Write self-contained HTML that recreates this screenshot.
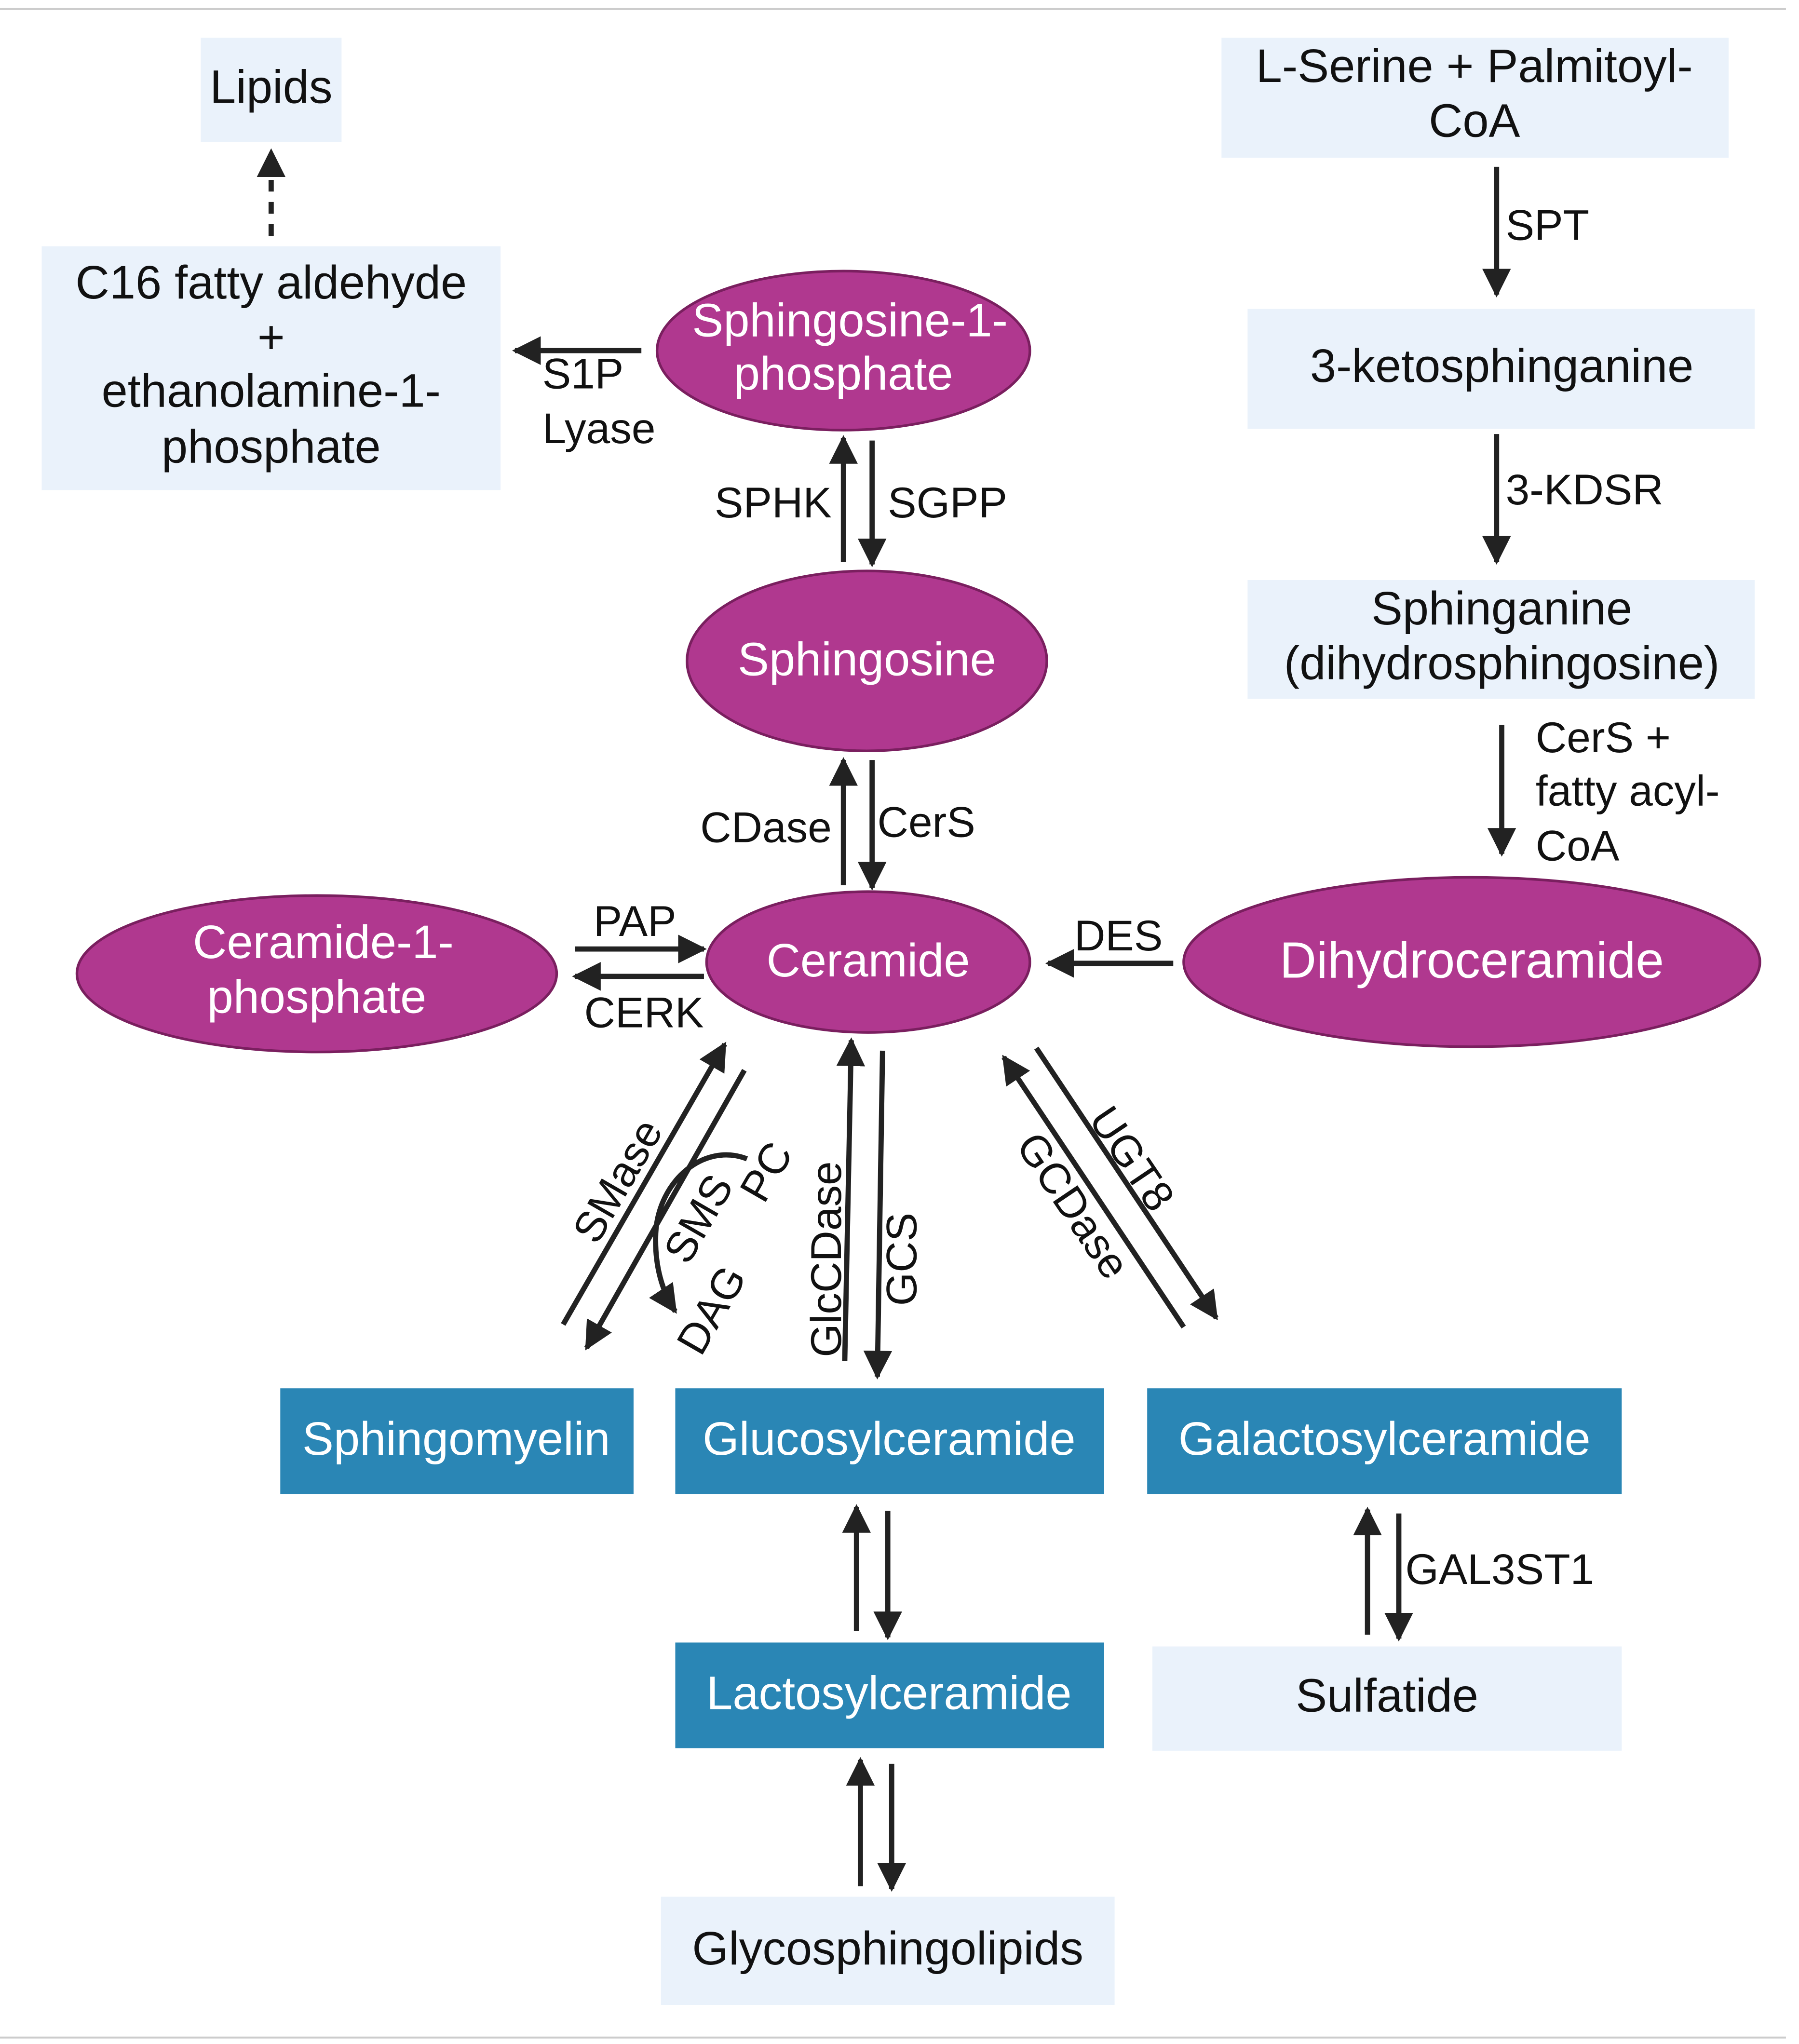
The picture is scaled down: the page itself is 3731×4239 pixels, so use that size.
<!DOCTYPE html>
<html><head><meta charset="utf-8">
<style>
html,body{margin:0;padding:0;background:#fff;}
svg{display:block;}
text{font-family:"Liberation Sans",Arial,sans-serif;}
</style></head>
<body>
<svg width="3731" height="4239" viewBox="0 0 1380 1566" xmlns="http://www.w3.org/2000/svg">
<defs>
<marker id="a" viewBox="0 0 10 10" refX="9" refY="5" markerWidth="5.5" markerHeight="5.5" orient="auto" markerUnits="strokeWidth">
<path d="M0,0 L10,5 L0,10 z" fill="#222"/>
</marker>
</defs>
<rect width="1380" height="1566" fill="#fff"/>
<line x1="0" y1="6" x2="1370" y2="6" stroke="#ccc" stroke-width="1.5"/>
<line x1="0" y1="1562" x2="1370" y2="1562" stroke="#ccc" stroke-width="1.5"/>

<g fill="#eaf2fb">
<rect x="154" y="28" width="108" height="80"/>
<rect x="32" y="188" width="352" height="187"/>
<rect x="937" y="28" width="389" height="92"/>
<rect x="957" y="236" width="389" height="92"/>
<rect x="957" y="444" width="389" height="91"/>
<rect x="884" y="1262" width="360" height="80"/>
<rect x="507" y="1454" width="348" height="83"/>
</g>
<g fill="#2a86b5">
<rect x="215" y="1064" width="271" height="81"/>
<rect x="518" y="1064" width="329" height="81"/>
<rect x="880" y="1064" width="364" height="81"/>
<rect x="518" y="1259" width="329" height="81"/>
</g>
<g fill="#b0388f" stroke="#7a1f5f" stroke-width="2">
<ellipse cx="647" cy="268" rx="143" ry="61"/>
<ellipse cx="665" cy="506" rx="138" ry="69"/>
<ellipse cx="666" cy="737" rx="124" ry="54"/>
<ellipse cx="243" cy="746" rx="184" ry="60"/>
<ellipse cx="1129" cy="737" rx="221" ry="65"/>
</g>

<g font-size="36" text-anchor="middle" fill="#111">
<text x="208" y="78">Lipids</text>
<text x="208" y="228">C16 fatty aldehyde</text>
<text x="208" y="270">+</text>
<text x="208" y="311">ethanolamine-1-</text>
<text x="208" y="354">phosphate</text>
<text x="1131" y="62">L-Serine + Palmitoyl-</text>
<text x="1131" y="104">CoA</text>
<text x="1152" y="292">3-ketosphinganine</text>
<text x="1152" y="478">Sphinganine</text>
<text x="1152" y="520">(dihydrosphingosine)</text>
<text x="1064" y="1312">Sulfatide</text>
<text x="681" y="1506">Glycosphingolipids</text>
</g>
<g font-size="36" text-anchor="middle" fill="#fff">
<text x="652" y="257">Sphingosine-1-</text>
<text x="647" y="298">phosphate</text>
<text x="665" y="517">Sphingosine</text>
<text x="666" y="748">Ceramide</text>
<text x="248" y="734">Ceramide-1-</text>
<text x="243" y="776">phosphate</text>
<text x="1129" y="749" font-size="39">Dihydroceramide</text>
<text x="350" y="1115">Sphingomyelin</text>
<text x="682" y="1115">Glucosylceramide</text>
<text x="1062" y="1115">Galactosylceramide</text>
<text x="682" y="1310">Lactosylceramide</text>
</g>

<g stroke="#222" stroke-width="4" fill="none" marker-end="url(#a)">
<line x1="208" y1="180" x2="208" y2="115" stroke-dasharray="9,8"/>
<line x1="492" y1="268" x2="395" y2="268"/>
<line x1="647" y1="430" x2="647" y2="335"/>
<line x1="669" y1="337" x2="669" y2="432"/>
<line x1="647" y1="678" x2="647" y2="582"/>
<line x1="669" y1="582" x2="669" y2="680"/>
<line x1="441" y1="727" x2="540" y2="727"/>
<line x1="540" y1="748" x2="441" y2="748"/>
<line x1="900" y1="738" x2="804" y2="738"/>
<line x1="1148" y1="127" x2="1148" y2="225"/>
<line x1="1148" y1="332" x2="1148" y2="430"/>
<line x1="1152" y1="555" x2="1152" y2="654"/>
<line x1="432" y1="1015" x2="556" y2="800"/>
<line x1="571" y1="820" x2="450" y2="1033"/>
<path d="M573,888 C540,875 505,905 503,945 C502,970 508,990 518,1005"/>
<line x1="648" y1="1043" x2="653" y2="797"/>
<line x1="677" y1="805" x2="673" y2="1055"/>
<line x1="795" y1="803" x2="933" y2="1010"/>
<line x1="908" y1="1017" x2="770" y2="810"/>
<line x1="657" y1="1250" x2="657" y2="1155"/>
<line x1="681" y1="1158" x2="681" y2="1255"/>
<line x1="1049" y1="1253" x2="1049" y2="1157"/>
<line x1="1073" y1="1160" x2="1073" y2="1256"/>
<line x1="660" y1="1446" x2="660" y2="1349"/>
<line x1="684" y1="1352" x2="684" y2="1448"/>
</g>

<g font-size="33" fill="#111">
<text x="416" y="297">S1P</text>
<text x="416" y="339">Lyase</text>
<text x="638" y="396" text-anchor="end">SPHK</text>
<text x="681" y="396">SGPP</text>
<text x="638" y="645" text-anchor="end">CDase</text>
<text x="673" y="641">CerS</text>
<text x="487" y="717" text-anchor="middle">PAP</text>
<text x="494" y="787" text-anchor="middle">CERK</text>
<text x="858" y="728" text-anchor="middle">DES</text>
<text x="1155" y="183">SPT</text>
<text x="1155" y="386">3-KDSR</text>
<text x="1178" y="576">CerS +</text>
<text x="1178" y="617">fatty acyl-</text>
<text x="1178" y="659">CoA</text>
<text x="1078" y="1214">GAL3ST1</text>
<text transform="translate(474,905) rotate(-60)" text-anchor="middle" dy="11">SMase</text>
<text transform="translate(536,934) rotate(-60)" text-anchor="middle" dy="11">SMS</text>
<text transform="translate(588,898) rotate(-60)" text-anchor="middle" dy="11">PC</text>
<text transform="translate(546,1004) rotate(-60)" text-anchor="middle" dy="11">DAG</text>
<text transform="translate(634,965) rotate(-90)" text-anchor="middle" dy="11">GlcCDase</text>
<text transform="translate(692,965) rotate(-90)" text-anchor="middle" dy="11">GCS</text>
<text transform="translate(868,888) rotate(56)" text-anchor="middle" dy="11">UGT8</text>
<text transform="translate(823,924) rotate(56)" text-anchor="middle" dy="11">GCDase</text>
</g>
</svg>
</body></html>
